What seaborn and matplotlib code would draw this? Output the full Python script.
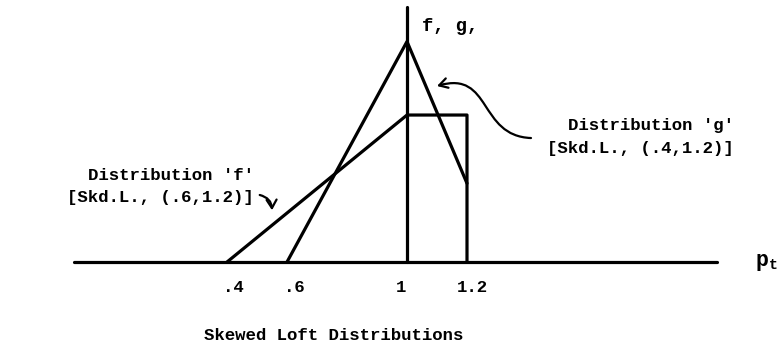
import matplotlib
matplotlib.use("Agg")
import matplotlib.pyplot as plt
import seaborn as sns
import pandas as pd
from matplotlib.transforms import offset_copy
from matplotlib.path import Path
from matplotlib.patches import FancyArrowPatch

sns.set_theme(style="white")
plt.rcParams['font.family'] = ['Liberation Mono', 'DejaVu Sans Mono']
plt.rcParams['mathtext.fontset'] = 'custom'
plt.rcParams['mathtext.rm'] = 'Liberation Mono:bold'
plt.rcParams['mathtext.it'] = 'Liberation Mono:bold'

# ---- data ----
f_x = [0.4, 1.0, 1.2, 1.2]
f_y = [0.0, 2.0, 2.0, 0.0]
g_x = [0.6, 1.0, 1.2]
g_y = [0.0, 3.0, 1.07]
tick_values = [0.4, 0.6, 1.0, 1.2]
tick_labels = [".4", ".6", "1", "1.2"]
title = "Skewed Loft Distributions"
f_label = "Distribution 'f'\n[Skd.L., (.6,1.2)]"
g_label = "Distribution 'g'\n[Skd.L., (.4,1.2)]"

df = pd.concat([
    pd.DataFrame({"p": f_x, "d": f_y, "dist": "f"}),
    pd.DataFrame({"p": g_x, "d": g_y, "dist": "g"}),
])

fig = plt.figure(figsize=(7.78, 3.47), dpi=100)
ax = fig.add_axes([0, 0, 1, 1])
XL, XR, YB, YT = -0.3567, 2.2367, -1.156, 3.565
ax.set_xlim(XL, XR)
ax.set_ylim(YB, YT)
ax.axis("off")

lw = 2.3
# axes of the sketch
ax.axhline(0, xmin=(-0.11 - XL) / (XR - XL), xmax=(2.033 - XL) / (XR - XL),
           color="black", lw=lw)
ax.axvline(1.0, ymin=(0 - YB) / (YT - YB), ymax=(3.47 - YB) / (YT - YB),
           color="black", lw=lw)

sns.lineplot(data=df, x="p", y="d", units="dist", estimator=None, sort=False,
             color="black", lw=lw, ax=ax, legend=False)

fs = 12.5
fw = "bold"
# tick labels (typed slightly off the exact positions)
offs = [6, 7, -6, 5]
for v, lab, o in zip(tick_values, tick_labels, offs):
    tr = offset_copy(ax.transData, fig=fig, x=o, y=0, units="dots")
    ax.text(v, -0.34, lab, transform=tr, ha="center", va="center", fontsize=fs,
            fontweight=fw, color="black")

ax.text(1.05, 3.21, "f, g,", fontsize=fs + 1, fontweight=fw, ha="left",
        va="center", color="black")
ax.text(2.16, 0.0, r"$\mathrm{p}_{\mathrm{t}}$", fontsize=fs + 3, ha="left",
        va="center", color="black")

ax.text(0.49, 1.03, f_label, fontsize=fs, fontweight=fw, ha="right", va="center",
        linespacing=1.6, color="black")
ax.text(2.09, 1.70, g_label, fontsize=fs, fontweight=fw, ha="right", va="center",
        linespacing=1.6, color="black")

ax.text(0.755, -0.995, title, fontsize=fs, fontweight=fw, ha="center",
        va="center", color="black")

# arrows
ax.annotate("", xy=(0.55, 0.667), xytext=(0.5, 0.92),
            arrowprops=dict(arrowstyle="->,head_length=0.5,head_width=0.3",
                            color="black", lw=1.6,
                            connectionstyle="arc3,rad=-0.45"))


def px(xp, yp):
    return (1 + (xp - 407) / 300.0, (262 - yp) / 73.5)


verts = [px(531, 138), px(478, 136), px(492, 70), px(437, 86)]
path = Path(verts, [Path.MOVETO, Path.CURVE4, Path.CURVE4, Path.CURVE4])
arrow = FancyArrowPatch(path=path, arrowstyle="->,head_length=6,head_width=3.5",
                        color="black", lw=1.6)
ax.add_patch(arrow)

fig.savefig("out.png", dpi=100)
